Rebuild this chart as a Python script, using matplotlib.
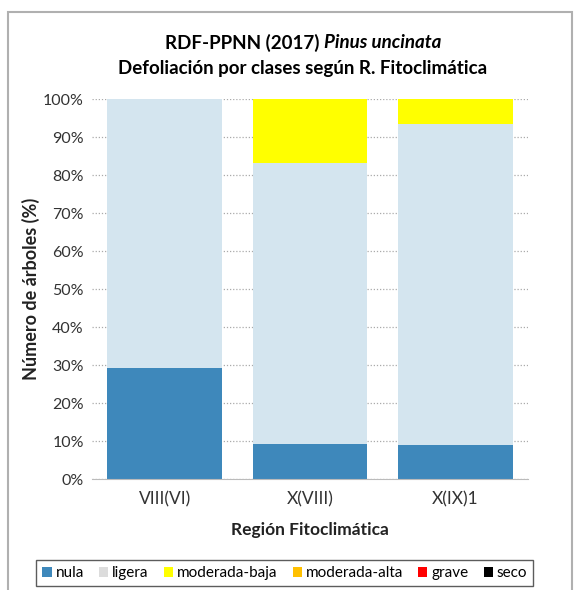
import numpy as np
import matplotlib.pyplot as plt
from matplotlib.patches import Rectangle, Patch

plt.rcParams['font.family'] = ['Lato', 'DejaVu Sans']

# data
regiones = ['VIII(VI)', 'X(VIII)', 'X(IX)1']
nula = [29.3, 9.3, 8.9]
ligera = [70.7, 74.0, 84.5]
moderada_baja = [0.0, 16.7, 6.6]
moderada_alta = [0.0, 0.0, 0.0]
grave = [0.0, 0.0, 0.0]
seco = [0.0, 0.0, 0.0]

clases = ['nula', 'ligera', 'moderada-baja', 'moderada-alta', 'grave', 'seco']
series = [nula, ligera, moderada_baja, moderada_alta, grave, seco]
colores = ['#3e88bb', '#d4e5ef', '#ffff00', '#ffc000', '#ff0000', '#000000']
leg_colores = ['#3e88bb', '#dcdcdc', '#ffff00', '#ffc000', '#ff0000', '#000000']

fig = plt.figure(figsize=(5.8, 5.9), dpi=100)
ax = fig.add_axes([0.159, 0.188, 0.751, 0.644])

x = np.arange(len(regiones))
bottom = np.zeros(len(regiones))
for vals, c in zip(series, colores):
    v = np.array(vals)
    ax.bar(x, v, bottom=bottom, width=0.79, color=c, zorder=2)
    bottom += v

ax.set_ylim(0, 100)
ax.set_xlim(-0.5, 2.5)
ax.set_yticks(np.arange(0, 101, 10))
ax.set_yticklabels([f'{v}%' for v in range(0, 101, 10)], fontsize=11.5, color='#333333')
ax.set_xticks(x)
ax.set_xticklabels(regiones, fontsize=12.5, color='#333333')
ax.tick_params(axis='y', length=0, pad=6)
ax.tick_params(axis='x', length=0, pad=9)
ax.yaxis.grid(True, linestyle=(0, (1, 1.5)), color='#aaaaaa', linewidth=0.9, zorder=0)
for s in ['top', 'right', 'left']:
    ax.spines[s].set_visible(False)
ax.spines['bottom'].set_color('#bbbbbb')

ax.set_xlabel('Región Fitoclimática', fontsize=12.5, fontweight='bold', labelpad=10, color='#222222')
ax.set_ylabel('Número de árboles (%)', fontsize=13, fontweight='bold', labelpad=2, color='#222222')

# title, first line with italic species name, centred as a whole
r = fig.canvas.get_renderer()
t1 = fig.text(0, 0.928, 'RDF-PPNN (2017) ', fontsize=13.5, fontweight='bold', ha='left', va='center')
t2 = fig.text(0, 0.928, 'Pinus uncinata', fontsize=13.5, fontweight='bold', style='italic',
              ha='left', va='center')
w1 = t1.get_window_extent(r).width / fig.bbox.width
w2 = t2.get_window_extent(r).width / fig.bbox.width
x0 = 0.522 - (w1 + w2) / 2
t1.set_x(x0)
t2.set_x(x0 + w1)
fig.text(0.522, 0.884, 'Defoliación por clases según R. Fitoclimática', fontsize=13.5, fontweight='bold',
         ha='center', va='center')

handles = [Patch(facecolor=c, edgecolor='none') for c in leg_colores]
leg = fig.legend(handles, clases, loc='center', bbox_to_anchor=(0.491, 0.0285), ncol=6,
                 fontsize=11, frameon=True, fancybox=False, handlelength=0.6, handleheight=0.6,
                 handletextpad=0.25, columnspacing=1.0, borderpad=0.4)
leg.get_frame().set_edgecolor('#333333')
leg.get_frame().set_linewidth(1.0)

# outer frame of the chart
fig.patches.append(Rectangle((0.014, -0.05), 0.972, 1.03, transform=fig.transFigure,
                             fill=False, edgecolor='#b0b0b0', linewidth=1.5))

fig.savefig('out.png', dpi=100)
